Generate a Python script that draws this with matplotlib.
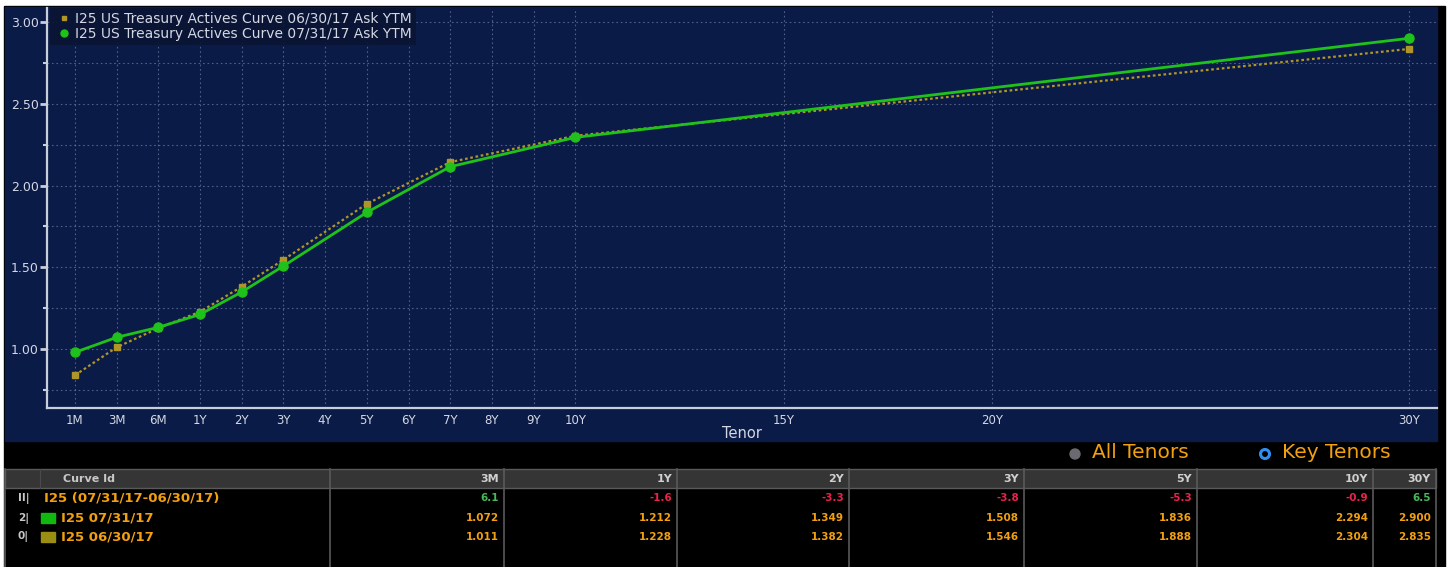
import numpy as np
import matplotlib
matplotlib.use("Agg")
import matplotlib.pyplot as plt
from matplotlib.patches import Rectangle, Circle
from matplotlib.lines import Line2D

# --- data -------------------------------------------------------------
tenor_labels = ["1M", "3M", "6M", "1Y", "2Y", "3Y", "4Y", "5Y", "6Y", "7Y",
                "8Y", "9Y", "10Y", "15Y", "20Y", "30Y"]
tenor_years = [1 / 12, 0.25, 0.5, 1, 2, 3, 4, 5, 6, 7, 8, 9, 10, 15, 20, 30]

curve_years = [1 / 12, 0.25, 0.5, 1, 2, 3, 5, 7, 10, 30]
ytm_0731 = [0.980, 1.072, 1.133, 1.212, 1.349, 1.508, 1.836, 2.115, 2.294, 2.900]
ytm_0630 = [0.840, 1.011, 1.128, 1.228, 1.382, 1.546, 1.888, 2.143, 2.304, 2.835]

label_0630 = "I25 US Treasury Actives Curve 06/30/17 Ask YTM"
label_0731 = "I25 US Treasury Actives Curve 07/31/17 Ask YTM"

table_cols = ["3M", "1Y", "2Y", "3Y", "5Y", "10Y", "30Y"]
table_chg = [6.1, -1.6, -3.3, -3.8, -5.3, -0.9, 6.5]
table_0731 = [1.072, 1.212, 1.349, 1.508, 1.836, 2.294, 2.900]
table_0630 = [1.011, 1.228, 1.382, 1.546, 1.888, 2.304, 2.835]
row_names = ["I25 (07/31/17-06/30/17)", "I25 07/31/17", "I25 06/30/17"]

# --- colours ----------------------------------------------------------
NAVY = "#0b1b47"
GREEN = "#1fc21a"
OLIVE = "#b09628"
GRIDC = "#7f8db0"
AXC = "#c9cedb"
LBL = "#d4d8e4"
ORANGE = "#f2a00f"
RED = "#e8234a"
TGREEN = "#46b85a"


# piecewise tenor axis: short end evenly spaced, 10Y+ linear in years
_idx = [float(i) for i in range(13)] + [12.0 + (y - 10) for y in tenor_years[13:]]


def _pw(x, xp, fp):
    x = np.asarray(x, dtype=float)
    y = np.interp(x, xp, fp)
    lo_s = (fp[1] - fp[0]) / (xp[1] - xp[0])
    hi_s = (fp[-1] - fp[-2]) / (xp[-1] - xp[-2])
    y = np.where(x < xp[0], fp[0] + (x - xp[0]) * lo_s, y)
    y = np.where(x > xp[-1], fp[-1] + (x - xp[-1]) * hi_s, y)
    return y


def fwd(x):
    return _pw(x, tenor_years, _idx)


def inv(x):
    return _pw(x, _idx, tenor_years)


W, H = 1447, 567
fig = plt.figure(figsize=(W / 100, H / 100), dpi=100, facecolor="white")

# background panels (pixel space overlay)
bg = fig.add_axes([0, 0, 1, 1])
bg.set_xlim(0, W)
bg.set_ylim(H, 0)
bg.axis("off")
bg.add_patch(Rectangle((4, 6), 1441, 561, color="black", zorder=0))
bg.add_patch(Rectangle((5, 7), 1432, 434, color=NAVY, zorder=1))

ax = fig.add_axes([47 / W, (H - 408) / H, (1437 - 47) / W, (408 - 8) / H])
ax.set_facecolor(NAVY)
ax.set_xscale("function", functions=(fwd, inv))
ax.set_xlim(float(inv(-0.67)), float(inv(32.66)))
ax.set_ylim(0.64, 3.085)

ax.plot(curve_years, ytm_0630, color=OLIVE, ls=(0, (1.2, 1.2)), lw=1.6,
        marker="s", ms=4, mfc=OLIVE, mec=OLIVE, zorder=3)
ax.plot(curve_years, ytm_0731, color=GREEN, lw=2.0,
        marker="o", ms=6.5, mfc=GREEN, mec=GREEN, zorder=4)

ax.set_xticks(tenor_years)
ax.set_xticklabels(tenor_labels)
ax.set_yticks(np.arange(1.0, 3.01, 0.5))
ax.set_yticks(np.arange(0.75, 3.01, 0.25), minor=True)
ax.yaxis.set_major_formatter(matplotlib.ticker.FormatStrFormatter("%.2f"))
ax.tick_params(axis="x", length=0, pad=4, labelsize=8.5, labelcolor=LBL)
ax.tick_params(axis="y", which="major", length=5, width=2, color=AXC,
               labelsize=9, labelcolor=LBL, pad=1)
ax.tick_params(axis="y", which="minor", length=3, width=1.5, color=AXC)
ax.xaxis.set_minor_locator(matplotlib.ticker.NullLocator())

ax.grid(True, axis="x", color=GRIDC, ls=(0, (1.5, 2.5)), lw=0.8, alpha=0.6)
ax.grid(True, axis="y", which="both", color=GRIDC, ls=(0, (1.5, 2.5)),
        lw=0.8, alpha=0.6)
for s in ("top", "right"):
    ax.spines[s].set_visible(False)
for s in ("left", "bottom"):
    ax.spines[s].set_color(AXC)
    ax.spines[s].set_linewidth(1.6)

ax.text(0.5, -0.045, "Tenor", transform=ax.transAxes, ha="center", va="top",
        fontsize=10.5, color=LBL)

handles = [Line2D([], [], color=OLIVE, marker="s", ms=3.5, ls="none"),
           Line2D([], [], color=GREEN, marker="o", ms=5, ls="none")]
leg = ax.legend(handles, [label_0630, label_0731], loc="upper left",
                bbox_to_anchor=(0.002, 1.0), fontsize=10, frameon=True,
                handletextpad=0.15, borderpad=0.3, labelspacing=0.05,
                handlelength=1.4, borderaxespad=0.0)
leg.get_frame().set_facecolor("#0a1433")
leg.get_frame().set_edgecolor("none")
leg.get_frame().set_alpha(0.9)
leg.get_frame().set_boxstyle("square", pad=0.0)
for t in leg.get_texts():
    t.set_color(LBL)

# --- toggle labels ----------------------------------------------------
tb = fig.add_axes([0, 0, 1, 1])
tb.set_xlim(0, W)
tb.set_ylim(H, 0)
tb.axis("off")
tb.add_patch(Circle((1075, 454), 5, color="#6a6a70", zorder=3))
tb.text(1092, 453, "All Tenors", color=ORANGE, fontsize=14.5, va="center")
tb.add_patch(Circle((1265, 454), 4.5, fc="none", ec="#2f8ff0", lw=2.2, zorder=3))
tb.text(1282, 453, "Key Tenors", color=ORANGE, fontsize=14.5, va="center")

# --- table ------------------------------------------------------------
col_right = [330, 504, 677, 849, 1024, 1197, 1373, 1436]
top, hdr_bot = 469, 488
tb.add_patch(Rectangle((5, top), 1431, hdr_bot - top, fc="#353535",
                       ec="#5a5a5a", lw=1, zorder=2))
tb.plot([5, 5], [top, H], color="#5a5a5a", lw=1.2, zorder=3)
tb.plot([40, 40], [top, hdr_bot], color="#4a4a4a", lw=0.8, zorder=3)
for xr in col_right:
    tb.plot([xr, xr], [top, H], color="#5a5a5a", lw=1.2, zorder=3)
tb.text(63, (top + hdr_bot) / 2, "Curve Id", color="#c8c8c8", fontsize=8,
        fontweight="bold", va="center")
for c, xr in zip(table_cols, col_right[1:]):
    tb.text(xr - 5, (top + hdr_bot) / 2, c, color="#d0d0d0", fontsize=8,
            fontweight="bold", va="center", ha="right")

row_y = [498, 518, 537]
for lab, y in zip(["II|", "2|", "0|"], row_y):
    tb.text(18, y, lab, color="#c8c8c8", fontsize=7.5, va="center",
            fontweight="bold")
tb.add_patch(Rectangle((41, row_y[1] - 5), 14, 10, color="#10b810", zorder=3))
tb.add_patch(Rectangle((41, row_y[2] - 5), 14, 10, color="#9a8f12", zorder=3))
tb.text(44, row_y[0], row_names[0], color=ORANGE, fontsize=9.5, va="center",
        fontweight="bold")
tb.text(61, row_y[1], row_names[1], color=ORANGE, fontsize=9.5, va="center",
        fontweight="bold")
tb.text(61, row_y[2], row_names[2], color=ORANGE, fontsize=9.5, va="center",
        fontweight="bold")

for i, xr in enumerate(col_right[1:]):
    d = table_chg[i]
    tb.text(xr - 5, row_y[0], "%.1f" % d, color=TGREEN if d > 0 else RED,
            fontsize=7.5, va="center", ha="right", fontweight="bold")
    tb.text(xr - 5, row_y[1], "%.3f" % table_0731[i], color=ORANGE,
            fontsize=7.5, va="center", ha="right", fontweight="bold")
    tb.text(xr - 5, row_y[2], "%.3f" % table_0630[i], color=ORANGE,
            fontsize=7.5, va="center", ha="right", fontweight="bold")

fig.savefig("out.png", dpi=100, facecolor=fig.get_facecolor())
